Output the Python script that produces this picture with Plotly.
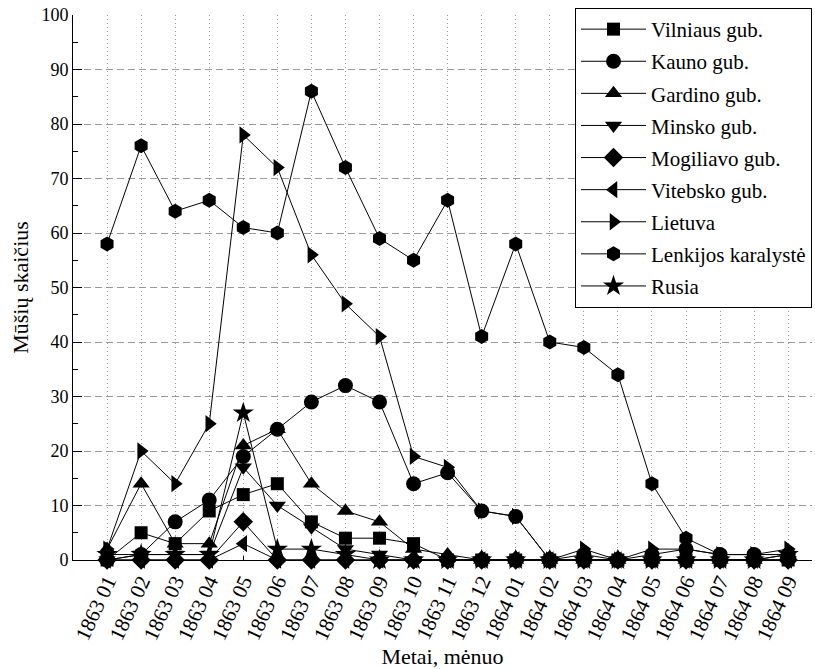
import plotly.graph_objects as go

months = ["1863 01", "1863 02", "1863 03", "1863 04", "1863 05", "1863 06", "1863 07",
          "1863 08", "1863 09", "1863 10", "1863 11", "1863 12", "1864 01", "1864 02",
          "1864 03", "1864 04", "1864 05", "1864 06", "1864 07", "1864 08", "1864 09"]

vilniaus   = [0, 5, 3, 9, 12, 14, 7, 4, 4, 3, 0, 0, 0, 0, 0, 0, 0, 0, 0, 0, 0]
kauno      = [0, 1, 7, 11, 19, 24, 29, 32, 29, 14, 16, 9, 8, 0, 1, 0, 1, 2, 1, 1, 1]
gardino    = [2, 14, 3, 3, 21, 24, 14, 9, 7, 2, 1, 0, 0, 0, 0, 0, 0, 0, 0, 0, 1]
minsko     = [0, 1, 1, 1, 17, 10, 6, 2, 1, 0, 0, 0, 0, 0, 0, 0, 0, 0, 0, 0, 0]
mogiliavo  = [0, 0, 0, 0, 7, 0, 0, 0, 0, 0, 0, 0, 0, 0, 0, 0, 0, 0, 0, 0, 0]
vitebsko   = [0, 0, 0, 0, 3, 0, 0, 0, 0, 0, 0, 0, 0, 0, 0, 0, 0, 0, 0, 0, 0]
lietuva    = [2, 20, 14, 25, 78, 72, 56, 47, 41, 19, 17, 9, 8, 0, 2, 0, 2, 2, 1, 1, 2]
lenkijos   = [58, 76, 64, 66, 61, 60, 86, 72, 59, 55, 66, 41, 58, 40, 39, 34, 14, 4, 1, 1, 1]
rusia      = [1, 1, 1, 1, 27, 2, 2, 1, 0, 0, 0, 0, 0, 0, 0, 0, 0, 0, 0, 0, 1]

series = [
    ("Vilniaus gub.", vilniaus, "square", 13),
    ("Kauno gub.", kauno, "circle", 15),
    ("Gardino gub.", gardino, "triangle-up", 15),
    ("Minsko gub.", minsko, "triangle-down", 15),
    ("Mogiliavo gub.", mogiliavo, "diamond", 15),
    ("Vitebsko gub.", vitebsko, "triangle-left", 15),
    ("Lietuva", lietuva, "triangle-right", 15),
    ("Lenkijos karalystė", lenkijos, "hexagon", 15),
    ("Rusia", rusia, "star", 16),
]

FONT = "Liberation Serif"
fig = go.Figure()
for i, (name, vals, sym, sz) in enumerate(series):
    fig.add_trace(go.Scatter(
        x=months, y=vals, name=name, mode="lines+markers",
        line=dict(color="black", width=1),
        marker=dict(symbol=sym, size=sz, color="black", line=dict(width=0)),
        cliponaxis=False, legendgroup=f"g{i}",
    ))

fig.update_layout(
    width=815, height=669,
    margin=dict(l=73, r=3, t=15, b=109, autoexpand=False),
    paper_bgcolor="white", plot_bgcolor="white",
    font=dict(family=FONT, size=18, color="black"),
    showlegend=True,
    legend=dict(
        x=(575 - 73) / 739, xanchor="left",
        y=1 + 7 / 545, yanchor="top",
        bgcolor="white", bordercolor="black", borderwidth=1,
        font=dict(family=FONT, size=21),
        tracegroupgap=1.8, traceorder="grouped", itemwidth=65,
    ),
    xaxis=dict(
        type="category", range=[-1, 20.7],
        showgrid=True, gridcolor="#999999", griddash="1px,3px", gridwidth=1,
        showline=True, linecolor="black", linewidth=1,
        ticks="inside", ticklen=4, tickcolor="black",
        tickangle=-65, tickfont=dict(family=FONT, size=21),
        ticklabeloverflow="allow",
        title=dict(text="Metai, mėnuo", font=dict(family=FONT, size=22), standoff=10),
        zeroline=False, automargin=False,
    ),
    yaxis=dict(
        range=[0, 100], dtick=10,
        showgrid=True, gridcolor="#999999", griddash="7px,4px", gridwidth=1,
        showline=True, linecolor="black", linewidth=1,
        ticks="inside", ticklen=9, tickcolor="black",
        minor=dict(dtick=5, ticks="inside", ticklen=5, tickcolor="black", showgrid=False),
        tickfont=dict(family=FONT, size=18),
        ticklabeloverflow="allow",
        title=dict(text="Mūšių skaičius", font=dict(family=FONT, size=22), standoff=6),
        zeroline=False, automargin=False,
    ),
)

# remove the default 8px page margin so the figure fills the 815x669 window exactly
fig.write_html("out.html", config={"displayModeBar": False},
               post_script="document.body.style.margin='0';")
